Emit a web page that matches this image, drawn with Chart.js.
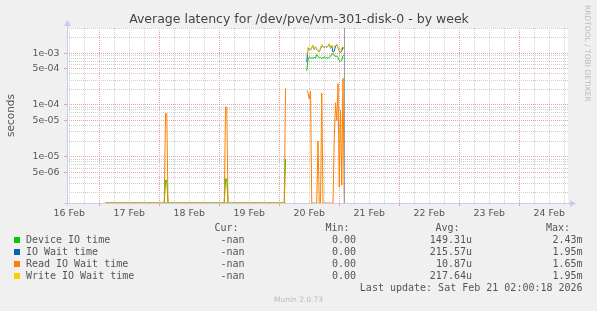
<!DOCTYPE html>
<html>
<head>
<meta charset="utf-8">
<script src="https://cdn.jsdelivr.net/npm/chart.js@4.4.1/dist/chart.umd.min.js"></script>
<style>
body { margin: 0; background: #f0f0f0; }
#wrap { position: relative; width: 597px; height: 311px; overflow: hidden; font-family: 'DejaVu Sans', sans-serif; }
#chart { position: absolute; left: 0; top: 0; }
.t { position: absolute; white-space: pre; line-height: 12px; }
.mono { font-family: 'DejaVu Sans Mono', monospace; font-size: 10px; color: #555; }
#title { left: 0; width: 598px; top: 12px; text-align: center; font-size: 12.5px; line-height: 14px; color: #444; }
#side { left: 583px; top: 5px; writing-mode: vertical-rl; font-size: 7.5px; line-height: 9px; color: #bbb; }
#footer { left: 0; width: 597px; top: 294px; text-align: center; font-size: 7.5px; color: #bbb; }
</style>
</head>
<body>
<div id="wrap">
  <canvas id="chart" width="597" height="311"></canvas>
  <div id="title" class="t">Average latency for /dev/pve/vm-301-disk-0 - by week</div>
  <div id="side" class="t">RRDTOOL / TOBI OETIKER</div>
  <div id="footer" class="t">Munin 2.0.73</div>
</div>
<script>
// hours since 16 Feb 00:00, 30 min samples around the activity
const hours = [26.5, 50.0, 50.5, 51.0, 51.5, 74.0, 74.5, 75.0, 75.5, 98.0, 98.5, 99.0,
  107.0, 107.5, 108.0, 108.5, 109.0, 109.5, 110.0, 110.5, 111.0, 111.5,
  112.0, 112.5, 113.0, 113.5, 114.0, 114.5, 115.0, 115.5, 116.0, 116.5,
  117.0, 117.5, 118.0, 118.5, 119.0, 119.5, 120.0, 120.5, 121.0, 121.5, 122.0];

const deviceIO = [0, 0, 3.5e-6, 3.5e-6, 0, 0, 3.7e-6, 3.7e-6, 0, 0, 9e-6, null,
  4.6e-4, 7.6e-4, 8.4e-4, 8.0e-4, 8.2e-4, 8.0e-4, 8.3e-4, 8.1e-4, 9.4e-4, 8.6e-4,
  8.2e-4, 8.3e-4, 8.0e-4, 8.2e-4, 8.5e-4, 8.1e-4, 8.3e-4, 8.0e-4, 8.4e-4, 8.7e-4,
  9.5e-4, 9.8e-4, 9.2e-4, 8.6e-4, 8.8e-4, 8.3e-4, 7.2e-4, 7.0e-4, 7.3e-4, 9.0e-4, 9.3e-4];

const ioWait = [0, 0, 0, 0, 0, 0, 0, 0, 0, 0, 0, null,
  6.8e-4, 1.25e-3, 1.22e-3, 1.15e-3, 1.28e-3, 1.42e-3, 1.18e-3, 1.32e-3, 1.2e-3, 1.13e-3,
  1.06e-3, 1.22e-3, 1.44e-3, 1.37e-3, 1.28e-3, 1.35e-3, 1.3e-3, 1.37e-3, 1.5e-3, 1.25e-3,
  1.4e-3, 1.05e-3, 1.1e-3, 1.38e-3, 1.46e-3, 1.28e-3, 1.12e-3, 1.03e-3, 1.1e-3, 1.32e-3, 1.22e-3];

const readWait = [0, 0, 6.8e-5, 6.8e-5, 0, 0, 9.1e-5, 9.1e-5, 0, 0, 2.1e-4, null,
  1.9e-4, 1.7e-4, 1.3e-4, 1.85e-4, 0, 0, 0, 0, 0, 2.0e-5,
  0, 0, 1.7e-4, 0, 0, 0, 0, 0, 0, 0,
  0, 0, 2.2e-5, 1.1e-4, 5.0e-5, 2.6e-4, 2.6e-6, 8.0e-5, 2.8e-6, 3.3e-4, 0];

const writeWait = [0, 0, 0, 0, 0, 0, 0, 0, 0, 0, 0, null,
  9.0e-4, 1.3e-3, 1.25e-3, 1.17e-3, 1.3e-3, 1.45e-3, 1.2e-3, 1.35e-3, 1.22e-3, 1.15e-3,
  1.08e-3, 1.25e-3, 1.47e-3, 1.4e-3, 1.3e-3, 1.38e-3, 1.32e-3, 1.4e-3, 1.55e-3, 1.28e-3,
  1.45e-3, 1.3e-3, 1.36e-3, 1.42e-3, 1.5e-3, 1.3e-3, 1.15e-3, 1.05e-3, 1.28e-3, 1.35e-3, 1.25e-3];

const dayLabels = ['16 Feb', '17 Feb', '18 Feb', '19 Feb', '20 Feb', '21 Feb', '22 Feb', '23 Feb', '24 Feb'];
const majorYTicks = [5e-6, 1e-5, 5e-5, 1e-4, 5e-4, 1e-3];
const majorYLabels = ['5e-06', '1e-05', '5e-05', '1e-04', '5e-04', '1e-03'];
const minorYTicks = [2e-6, 3e-6, 4e-6, 6e-6, 7e-6, 8e-6, 9e-6, 2e-5, 3e-5, 4e-5, 6e-5, 7e-5, 8e-5, 9e-5,
  2e-4, 3e-4, 4e-4, 6e-4, 7e-4, 8e-4, 9e-4, 2e-3, 3e-3];

const seriesNames = ['Device IO time', 'IO Wait time', 'Read IO Wait time', 'Write IO Wait time'];
const curText = ['-nan', '-nan', '-nan', '-nan'];
const minText = ['0.00', '0.00', '0.00', '0.00'];
const avgText = ['149.31u', '215.57u', '10.87u', '217.64u'];
const maxText = ['2.43m', '1.95m', '1.65m', '1.95m'];
const lastUpdate = 'Last update: Sat Feb 21 02:00:18 2026';
const lastUpdateHour = 122.0;

const colors = ['#00cc00', '#0066b3', '#ff8000', '#ffcc00'];
const RED = '#e6a2a2', GRAY = '#cfcfcf', AXIS = '#c6cbf2';
const Y_MIN = 1.27e-6, Y_MAX = 3.08e-3;

// x ticks every 6h, labels at noon, red grid at midnight
const xTicks = [];
for (let h = 12; h <= 210; h += 6) xTicks.push(h);
const noonHours = dayLabels.map((d, i) => 12 + 24 * i);

// zero can't sit on a log axis, rrdtool puts it on the floor
function points(vals) {
  return hours.map((h, i) => ({ x: h, y: vals[i] === null ? null : Math.max(vals[i], Y_MIN) }));
}

const plotBg = {
  id: 'plotBg',
  beforeDraw(chart) {
    const a = chart.chartArea, c = chart.ctx;
    c.save();
    c.fillStyle = '#fff';
    c.fillRect(a.left, a.top, a.right - a.left, a.bottom - a.top);
    c.restore();
  }
};

const frame = {
  id: 'frame',
  beforeDatasetsDraw(chart) {
    const a = chart.chartArea, c = chart.ctx;
    c.save();
    c.strokeStyle = AXIS; c.fillStyle = AXIS; c.lineWidth = 1;
    c.beginPath();
    c.moveTo(a.left - 3, a.bottom + 0.5); c.lineTo(a.right + 3, a.bottom + 0.5);
    c.moveTo(a.left + 0.5, a.bottom + 3); c.lineTo(a.left + 0.5, a.top - 5);
    c.stroke();
    c.beginPath();
    c.moveTo(a.right + 8, a.bottom + 0.5); c.lineTo(a.right + 2, a.bottom - 3); c.lineTo(a.right + 2, a.bottom + 4); c.closePath();
    c.moveTo(a.left + 0.5, a.top - 8); c.lineTo(a.left - 3, a.top - 2); c.lineTo(a.left + 4, a.top - 2); c.closePath();
    c.fill();
    c.restore();
  },
  afterDatasetsDraw(chart) {
    const a = chart.chartArea, c = chart.ctx;
    const x = Math.round(chart.scales.x.getPixelForValue(lastUpdateHour)) + 0.5;
    c.save();
    c.strokeStyle = '#a0a0a0'; c.lineWidth = 1;
    c.beginPath(); c.moveTo(x, a.top); c.lineTo(x, a.bottom); c.stroke();
    c.restore();
  }
};

Chart.defaults.font.family = "'DejaVu Sans', sans-serif";
Chart.defaults.color = '#555';

const sets = [deviceIO, ioWait, readWait, writeWait].map((vals, i) => ({
  label: seriesNames[i],
  data: points(vals),
  borderColor: colors[i],
  backgroundColor: colors[i],
  borderWidth: 1,
  pointRadius: 0,
  tension: 0,
  spanGaps: false,
  order: 4 - i
}));

new Chart(document.getElementById('chart').getContext('2d'), {
  type: 'line',
  data: { datasets: sets },
  options: {
    responsive: false,
    animation: false,
    devicePixelRatio: 1,
    layout: { padding: { top: 28, right: 29, bottom: 88, left: 0 } },
    plugins: { legend: { display: false }, tooltip: { enabled: false }, title: { display: false } },
    scales: {
      x: {
        type: 'linear',
        min: 11.1,
        max: 211.5,
        afterBuildTicks: s => { s.ticks = xTicks.map(v => ({ value: v })); },
        afterFit: s => { s.height = 20; },
        ticks: {
          autoSkip: false, maxRotation: 0, padding: 1.5,
          font: { size: 9.4 }, color: '#555',
          callback: v => { const k = noonHours.indexOf(v); return k >= 0 ? dayLabels[k] : ''; }
        },
        grid: {
          color: ctx => (ctx.tick && ctx.tick.value % 24 === 0 ? RED : GRAY),
          tickColor: ctx => (ctx.tick && ctx.tick.value % 24 === 0 ? RED : 'rgba(0,0,0,0)'),
          tickLength: 3,
          lineWidth: 1
        },
        border: { display: false, dash: [1, 1] }
      },
      y: {
        type: 'logarithmic',
        min: Y_MIN,
        max: Y_MAX,
        afterBuildTicks: s => { s.ticks = minorYTicks.concat(majorYTicks).sort((a, b) => a - b).map(v => ({ value: v })); },
        afterFit: s => { s.width = 67; },
        ticks: {
          autoSkip: false, padding: 4.5,
          font: { size: 9.4 }, color: '#555',
          callback: v => { const k = majorYTicks.indexOf(v); return k >= 0 ? majorYLabels[k] : ''; }
        },
        grid: {
          color: ctx => (ctx.tick && majorYTicks.includes(ctx.tick.value) ? RED : GRAY),
          tickColor: ctx => (ctx.tick && majorYTicks.includes(ctx.tick.value) ? RED : 'rgba(0,0,0,0)'),
          tickLength: 3,
          lineWidth: 1
        },
        border: { display: false, dash: [1, 1] },
        title: { display: true, text: 'seconds', font: { size: 10.5 }, color: '#555', padding: { top: 5, bottom: 0 } }
      }
    }
  },
  plugins: [plotBg, frame]
});

// legend table, rrdtool style
const wrap = document.getElementById('wrap');
function cell(text, x, yc, right) {
  const d = document.createElement('div');
  d.className = 't mono';
  d.textContent = text;
  d.style.top = (yc - 6) + 'px';
  if (right) d.style.right = (597 - x) + 'px'; else d.style.left = x + 'px';
  wrap.appendChild(d);
}
cell('Cur:', 238.5, 228.3, true);
cell('Min:', 349.6, 228.3, true);
cell('Avg:', 459.6, 228.3, true);
cell('Max:', 570, 228.3, true);
seriesNames.forEach((name, i) => {
  const yc = 240 + i * 11.9;
  const box = document.createElement('div');
  box.style.cssText = 'position:absolute;left:14px;width:6px;height:6px;top:' + (yc - 3) + 'px;background:' + colors[i];
  wrap.appendChild(box);
  cell(name, 25.9, yc, false);
  cell(curText[i], 244.5, yc, true);
  cell(minText[i], 356, yc, true);
  cell(avgText[i], 472, yc, true);
  cell(maxText[i], 582.6, yc, true);
});
cell(lastUpdate, 582.6, 287.7, true);
</script>
</body>
</html>
